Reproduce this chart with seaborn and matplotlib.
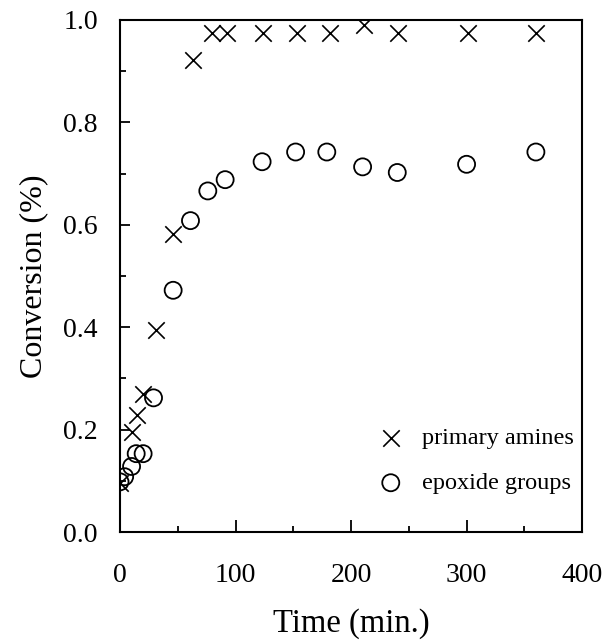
import numpy as np
import pandas as pd
import seaborn as sns
import matplotlib.pyplot as plt
from matplotlib.ticker import MultipleLocator

# values
amine_time = [0, 10, 15, 20, 31, 46, 63, 80, 93, 124, 153, 182, 211, 241, 301, 360]
amine_conv = [0.095, 0.195, 0.228, 0.27, 0.395, 0.582, 0.922, 0.975, 0.975,
              0.975, 0.975, 0.975, 0.99, 0.975, 0.975, 0.975]

epoxide_time = [0, 4, 10, 14, 20, 29, 46, 61, 76, 91, 123, 152, 179, 210, 240, 300, 360]
epoxide_conv = [0.098, 0.108, 0.128, 0.153, 0.153, 0.262, 0.472, 0.608, 0.666,
                0.688, 0.723, 0.742, 0.742, 0.713, 0.702, 0.718, 0.742]

amines = pd.DataFrame({"time": amine_time, "conv": amine_conv})
epox = pd.DataFrame({"time": epoxide_time, "conv": epoxide_conv})

sns.set_style("ticks")
plt.rcParams["font.family"] = ["Liberation Serif", "DejaVu Serif"]
plt.rcParams["text.color"] = "black"
plt.rcParams["axes.labelcolor"] = "black"
plt.rcParams["xtick.color"] = "black"
plt.rcParams["ytick.color"] = "black"

fig = plt.figure(figsize=(6.08, 6.41), dpi=100)
ax = fig.add_axes([0.1974, 0.170, 0.760, 0.799])

sns.scatterplot(data=amines, x="time", y="conv", marker="x", s=140,
                color="black", linewidth=1.2, label="primary amines", ax=ax)
sns.scatterplot(data=epox, x="time", y="conv", marker="o", s=150,
                facecolors="none", edgecolor="black", linewidth=1.3,
                label="epoxide groups", ax=ax)

ax.set_xlim(0, 400)
ax.set_ylim(0, 1.0)
ax.xaxis.set_major_locator(MultipleLocator(100))
ax.xaxis.set_minor_locator(MultipleLocator(50))
ax.yaxis.set_major_locator(MultipleLocator(0.2))
ax.yaxis.set_minor_locator(MultipleLocator(0.1))
ax.yaxis.set_major_formatter(plt.FormatStrFormatter("%.1f"))

ax.tick_params(axis="both", which="both", direction="in", colors="black",
               labelsize=20, width=1.3)
ax.tick_params(axis="x", which="major", length=9, pad=22)
ax.tick_params(axis="y", which="major", length=7, pad=16)
ax.tick_params(axis="both", which="minor", length=4)

for sp in ax.spines.values():
    sp.set_visible(True)
    sp.set_linewidth(1.5)
    sp.set_color("black")

ax.set_xlabel("Time (min.)", fontsize=23.5, labelpad=15)
ax.set_ylabel("Conversion (%)", fontsize=23, labelpad=11)

ax.legend(loc="lower right", bbox_to_anchor=(0.983, 0.074), frameon=False,
          fontsize=17.5, borderpad=0, borderaxespad=0, handlelength=2,
          handletextpad=0.3, labelspacing=0.95)

fig.savefig("out.png", dpi=100)
